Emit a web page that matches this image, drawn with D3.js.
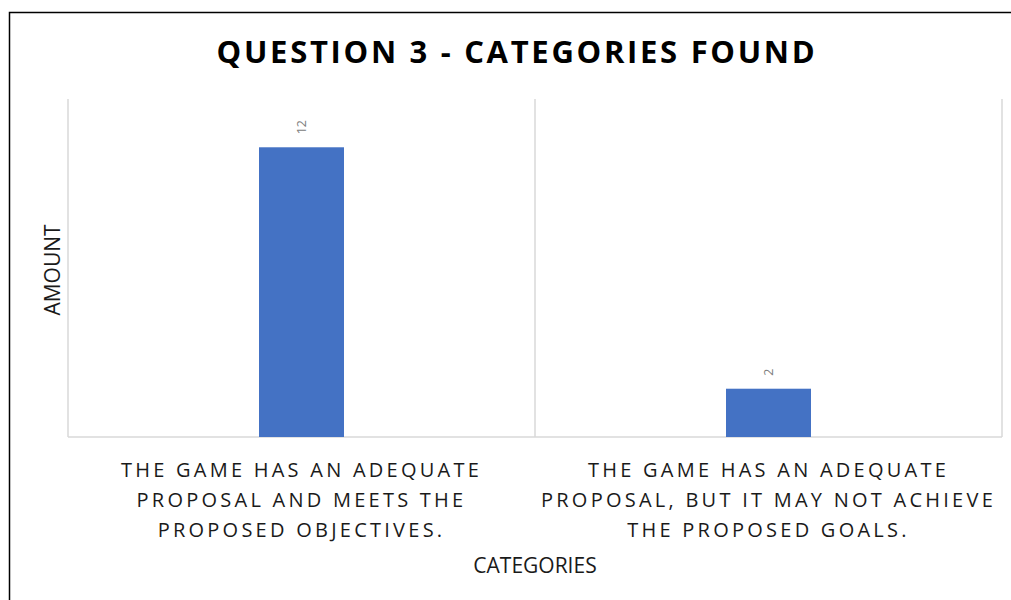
<!DOCTYPE html>
<html>
<head>
<meta charset="utf-8">
<script src="https://d3js.org/d3.v7.min.js"></script>
<style>
  body { margin: 0; background: #fff; }
  svg text { font-family: "Open Sans", sans-serif; }
</style>
</head>
<body>
<div id="chart"></div>
<script>
// data
var categories = ["cat1", "cat2"];
var categoryLines = [
  ["THE GAME HAS AN ADEQUATE", "PROPOSAL AND MEETS THE", "PROPOSED OBJECTIVES."],
  ["THE GAME HAS AN ADEQUATE", "PROPOSAL, BUT IT MAY NOT ACHIEVE", "THE PROPOSED GOALS."]
];
var amounts = [12, 2];
var yDomain = [0, 14];

var W = 1011, H = 600;
var margin = {top: 99, right: 9, bottom: 163, left: 68};
var width = W - margin.left - margin.right,
    height = H - margin.top - margin.bottom;

var svg = d3.select("#chart").append("svg")
  .attr("width", W).attr("height", H);

// outer border
svg.append("rect")
  .attr("x", 9.5).attr("y", 12.5)
  .attr("width", W + 10).attr("height", H + 10)
  .attr("fill", "none").attr("stroke", "#000").attr("stroke-width", 1.5);

// title
svg.append("text")
  .attr("x", 517).attr("y", 63)
  .attr("text-anchor", "middle")
  .style("font-size", "31px").style("font-weight", "bold")
  .style("letter-spacing", "2.7px")
  .text("QUESTION 3 - CATEGORIES FOUND");

var g = svg.append("g")
  .attr("transform", "translate(" + margin.left + "," + margin.top + ")");

var x = d3.scaleBand().domain(categories).range([0, width]).paddingInner(0).paddingOuter(0);
var y = d3.scaleLinear().domain(yDomain).range([height, 0]);

// vertical separators between categories
var seps = [0].concat(categories.map(function(c) { return x(c) + x.bandwidth(); }));
g.selectAll(".sep").data(seps).enter().append("line")
  .attr("x1", function(d) { return d; }).attr("x2", function(d) { return d; })
  .attr("y1", 0).attr("y2", height)
  .style("stroke", "#d9d9d9").style("stroke-width", 1.5);

// bottom axis line
g.append("line")
  .attr("x1", 0).attr("x2", width)
  .attr("y1", height).attr("y2", height)
  .style("stroke", "#d9d9d9").style("stroke-width", 1.5);

var barW = x.bandwidth() * 0.182;

g.selectAll(".bar").data(amounts).enter().append("rect")
  .attr("x", function(d, i) { return x(categories[i]) + x.bandwidth() / 2 - barW / 2; })
  .attr("y", function(d) { return y(d); })
  .attr("width", barW)
  .attr("height", function(d) { return height - y(d); })
  .attr("fill", "#4472c4");

// value labels, rotated
g.selectAll(".val").data(amounts).enter().append("text")
  .attr("transform", function(d, i) {
    var cx = x(categories[i]) + x.bandwidth() / 2;
    return "translate(" + (cx + 4.5) + "," + (y(d) - 13) + ") rotate(-90)";
  })
  .attr("text-anchor", "start")
  .style("font-size", "12.5px").style("fill", "#808080")
  .text(function(d) { return d; });

// category labels
categories.forEach(function(c, i) {
  var t = g.append("text")
    .attr("text-anchor", "middle")
    .style("font-size", "20px").style("fill", "#1a1a1a")
    .style("letter-spacing", "3.25px");
  categoryLines[i].forEach(function(line, j) {
    t.append("tspan")
      .attr("x", x(c) + x.bandwidth() / 2)
      .attr("y", height + 40 + j * 29.8)
      .text(line);
  });
});

// axis titles
svg.append("text")
  .attr("x", 535).attr("y", 573)
  .attr("text-anchor", "middle")
  .style("font-size", "21px").style("fill", "#1a1a1a")
  .text("CATEGORIES");

svg.append("text")
  .attr("transform", "translate(60,270) rotate(-90)")
  .attr("text-anchor", "middle")
  .style("font-size", "21px").style("fill", "#1a1a1a")
  .text("AMOUNT");
</script>
</body>
</html>
